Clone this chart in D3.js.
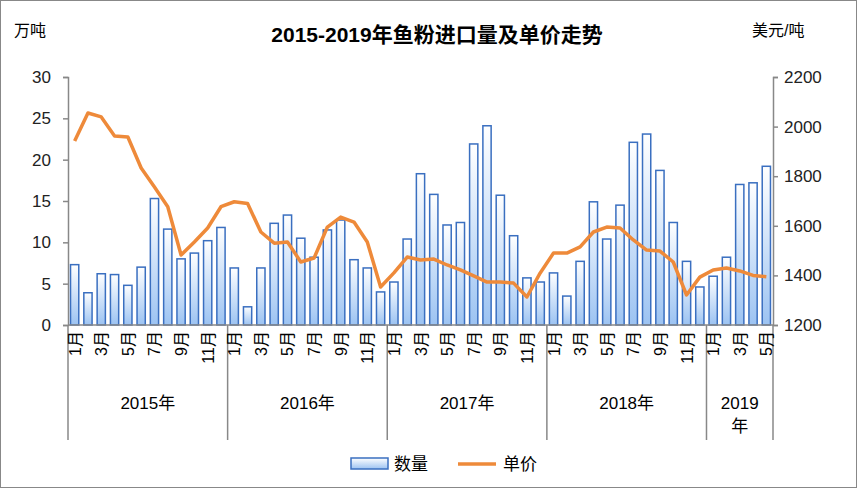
<!DOCTYPE html><html><head><meta charset="utf-8">
<script src="https://cdn.jsdelivr.net/npm/d3@7"></script>
<style>body{margin:0;background:#fff}svg{font-family:Arial,"Noto Sans CJK SC",sans-serif}</style></head><body>
<svg id="c" width="857" height="488"></svg>
<script>
const years=["2015年","2016年","2017年","2018年","2019年"];
const monthsPerYear=[12,12,12,12,5];
const quantity=[7.3,3.9,6.2,6.1,4.8,7.0,15.3,11.6,8.0,8.7,10.2,11.8,
6.9,2.2,6.9,12.3,13.3,10.5,8.2,11.5,12.7,7.9,6.9,4.0,
5.2,10.4,18.3,15.8,12.1,12.4,21.9,24.1,15.7,10.8,5.7,5.2,
6.3,3.5,7.7,14.9,10.4,14.5,22.1,23.1,18.7,12.4,7.7,4.6,
5.9,8.2,17.0,17.2,19.2];
const price=[1942,2055,2039,1962,1958,1833,1756,1677,1482,1535,1591,1677,
1697,1690,1575,1530,1535,1454,1470,1595,1635,1615,1535,1353,
1410,1474,1462,1466,1442,1422,1398,1373,1373,1369,1313,1410,
1490,1490,1515,1575,1595,1591,1543,1502,1498,1454,1321,1393,
1422,1430,1418,1400,1395];
const leftTicks=[0,5,10,15,20,25,30];
const rightTicks=[1200,1400,1600,1800,2000,2200];

const svg=d3.select("#c");
svg.append("rect").attr("x",0.5).attr("y",0.5).attr("width",856).attr("height",487).attr("fill","#fff").attr("stroke","#888");
const L=68,R=773,T=77,B=325;
const labels=[];years.forEach((y,k)=>{for(let m=1;m<=monthsPerYear[k];m++)labels.push(k+"-"+m);});
const x=d3.scaleBand().domain(labels).range([L,R]).paddingInner(0.38).paddingOuter(0.19);
const yL=d3.scaleLinear().domain([0,30]).range([B,T]);
const yR=d3.scaleLinear().domain([1200,2200]).range([B,T]);
const defs=svg.append("defs");
const g=defs.append("linearGradient").attr("id","bg").attr("x1",0).attr("y1",0).attr("x2",0).attr("y2",1);
g.append("stop").attr("offset","0").attr("stop-color","#ffffff");
g.append("stop").attr("offset","1").attr("stop-color","#9cc3f2");
svg.append("text").attr("x",437).attr("y",42).attr("text-anchor","middle").attr("font-size",21).attr("font-weight","bold").text("2015-2019年鱼粉进口量及单价走势");
svg.append("text").attr("x",14).attr("y",36).attr("font-size",16).text("万吨");
svg.append("text").attr("x",752).attr("y",36).attr("font-size",16).text("美元/吨");
const axL=svg.append("g").attr("transform",`translate(${L},0)`).call(d3.axisLeft(yL).tickValues(leftTicks).tickSize(5).tickPadding(12));
const axR=svg.append("g").attr("transform",`translate(${R},0)`).call(d3.axisRight(yR).tickValues(rightTicks).tickFormat(d3.format("d")).tickSize(5).tickPadding(6));
[axL,axR].forEach(a=>{a.selectAll("text").attr("font-size",17).attr("fill","#222");a.selectAll("line,path").attr("stroke","#888").attr("stroke-width",1.5);});
svg.append("g").selectAll("rect").data(quantity).join("rect")
 .attr("x",(d,i)=>x(labels[i])).attr("width",x.bandwidth()).attr("y",d=>yL(d)).attr("height",d=>B-yL(d))
 .attr("fill","url(#bg)").attr("stroke","#3a6fc0").attr("stroke-width",1.5);
const line=d3.line().x((d,i)=>x(labels[i])+x.bandwidth()/2).y(d=>yR(d));
svg.append("path").datum(price).attr("d",line).attr("fill","none").attr("stroke","#ee8a3a").attr("stroke-width",3.5).attr("stroke-linejoin","round");
svg.append("line").attr("x1",L).attr("x2",R).attr("y1",B).attr("y2",B).attr("stroke","#888").attr("stroke-width",1.5);
const step=x.step();
let idx=0;const bounds=[L];
years.forEach((y,k)=>{idx+=monthsPerYear[k];bounds.push(k==years.length-1?R:(x(labels[idx-1])+x.bandwidth()/2+step/2));});
bounds.forEach(b=>svg.append("line").attr("x1",b).attr("x2",b).attr("y1",B).attr("y2",440).attr("stroke","#888").attr("stroke-width",1.5));
labels.forEach((l,i)=>{const m=+l.split("-")[1];if(m%2==1){const cx=x(l)+x.bandwidth()/2;
 svg.append("text").attr("transform",`translate(${cx+6},${B+6}) rotate(-90)`).attr("text-anchor","end").attr("font-size",16).text(m+"月");}});
years.forEach((y,k)=>{const cx=(bounds[k]+bounds[k+1])/2;
 if(k<4)svg.append("text").attr("x",cx).attr("y",409).attr("text-anchor","middle").attr("font-size",17).text(y);
 else{svg.append("text").attr("x",cx).attr("y",409).attr("text-anchor","middle").attr("font-size",17).text("2019");
  svg.append("text").attr("x",cx).attr("y",432).attr("text-anchor","middle").attr("font-size",17).text("年");}});
svg.append("rect").attr("x",351).attr("y",458).attr("width",37).attr("height",11).attr("fill","url(#bg)").attr("stroke","#3a6fc0").attr("stroke-width",1.5);
svg.append("text").attr("x",394).attr("y",470).attr("font-size",17).text("数量");
svg.append("line").attr("x1",458).attr("x2",496).attr("y1",464).attr("y2",464).attr("stroke","#ee8a3a").attr("stroke-width",3.5);
svg.append("text").attr("x",503).attr("y",470).attr("font-size",17).text("单价");
</script></body></html>
